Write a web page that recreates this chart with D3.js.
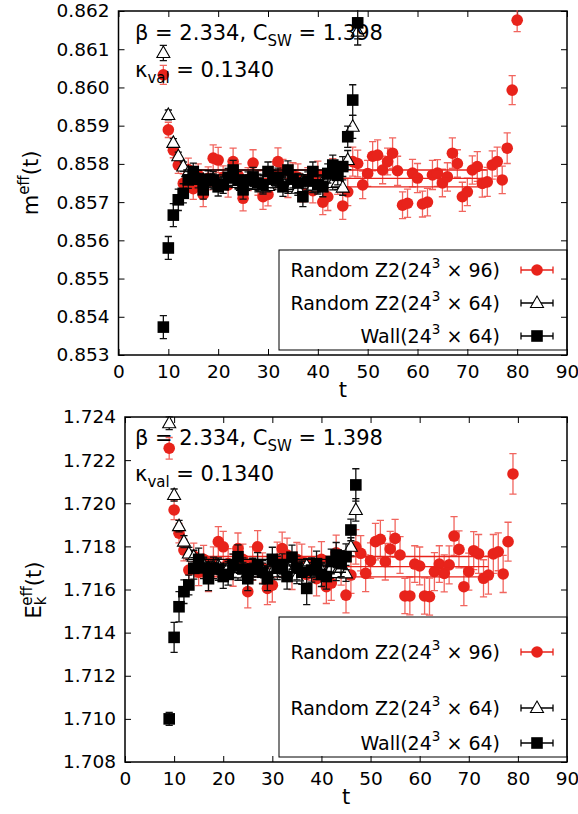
<!DOCTYPE html>
<html><head><meta charset="utf-8">
<script src="https://cdn.jsdelivr.net/npm/d3@7"></script>
<style>
body{margin:0;background:#fff}
svg{display:block}
text{font-family:"DejaVu Sans",Verdana,sans-serif;fill:#000}
</style>
</head><body>
<svg id="c" width="578" height="814"></svg>
<script>
// ---------------- data ----------------
const xTicks = [0,10,20,30,40,50,60,70,80,90];
const yTicksM = [0.853,0.854,0.855,0.856,0.857,0.858,0.859,0.860,0.861,0.862];
const yTicksE = [1.708,1.710,1.712,1.714,1.716,1.718,1.720,1.722,1.724];

const legendLabels = ["Random Z2(24", "Random Z2(24", "Wall(24"];
const legendTails = ["96)", "64)", "64)"];

// top panel: m_eff(t)
const tR96M = [9,10,11,12,13,14,15,16,17,18,19,20,21,22,23,24,25,26,27,28,29,30,31,32,33,34,35,36,37,38,39,40,41,42,43,44,45,46,47,48,49,50,51,52,53,54,55,56,57,58,59,60,61,62,63,64,65,66,67,68,69,70,71,72,73,74,75,76,77,78,79,80];
const mR96 = [0.86033,0.85889,0.85836,0.85797,0.85749,0.85785,0.85735,0.85770,0.85720,0.85762,
  0.85815,0.85810,0.85765,0.85745,0.85806,0.85770,0.85710,0.85760,0.85802,0.85750,
  0.85714,0.85720,0.85772,0.85806,0.85780,0.85742,0.85770,0.85765,0.85735,0.85760,
  0.85730,0.85772,0.85700,0.85714,0.85780,0.85752,0.85690,0.85727,0.85806,0.85801,
  0.85745,0.85775,0.85820,0.85823,0.85784,0.85806,0.85828,0.85782,0.85692,0.85697,
  0.85776,0.85763,0.85695,0.85700,0.85771,0.85776,0.85750,0.85766,0.85828,0.85801,
  0.85714,0.85727,0.85784,0.85793,0.85749,0.85753,0.85797,0.85806,0.85758,0.85841,
  0.85993,0.86176];
const mR96Err = [0.00025,0.0002,0.0002,0.00022,0.00025,0.0003,0.00028,0.0003,0.00032,0.0003,
  0.00035,0.00033,0.0003,0.00032,0.00035,0.0003,0.00033,0.0003,0.00035,0.00032,
  0.00033,0.0003,0.00034,0.00036,0.00032,0.0003,0.00033,0.00035,0.00034,0.0003,
  0.00032,0.00035,0.00033,0.00036,0.00034,0.00032,0.00035,0.00036,0.00038,0.00035,
  0.00036,0.00034,0.00038,0.0004,0.00036,0.00035,0.0004,0.00038,0.00035,0.00037,
  0.00036,0.00038,0.00034,0.00036,0.00038,0.00035,0.00036,0.00037,0.0004,0.00036,
  0.00038,0.00036,0.00037,0.00039,0.00036,0.00038,0.00037,0.00038,0.00036,0.0004,
  0.00038,0.0003];

const tR64M = [9,10,11,12,13,14,15,16,17,18,19,20,21,22,23,24,25,26,27,28,29,30,31,32,33,34,35,36,37,38,39,40,41,42,43,44,45,46,47,48];
const mR64 = [0.86090,0.85928,0.85855,0.85820,0.85793,0.85778,0.85770,0.85762,0.85758,0.85755,
  0.85760,0.85748,0.85752,0.85755,0.85760,0.85750,0.85742,0.85748,0.85756,0.85745,
  0.85740,0.85742,0.85750,0.85755,0.85752,0.85740,0.85745,0.85735,0.85756,0.85748,
  0.85742,0.85740,0.85752,0.85758,0.85750,0.85752,0.85738,0.85810,0.85897,0.86146];
const mR64Err = [0.0002,0.00013,0.00011,0.00011,0.00012,0.00013,0.00014,0.00013,0.00014,0.00015,
  0.00014,0.00015,0.00014,0.00016,0.00015,0.00014,0.00016,0.00015,0.00016,0.00015,
  0.00016,0.00015,0.00017,0.00016,0.00015,0.00017,0.00016,0.00017,0.00016,0.00018,
  0.00017,0.00016,0.00018,0.00017,0.00018,0.00019,0.0002,0.00025,0.0003,0.00035];

const tWallM = [9,10,11,12,13,14,15,16,17,18,19,20,21,22,23,24,25,26,27,28,29,30,31,32,33,34,35,36,37,38,39,40,41,42,43,44,45,46,47,48];
const mWall = [0.85373,0.85580,0.85666,0.85706,0.85723,0.85758,0.85780,0.85760,0.85732,0.85760,
  0.85757,0.85740,0.85745,0.85765,0.85784,0.85757,0.85732,0.85757,0.85766,0.85750,
  0.85745,0.85780,0.85760,0.85765,0.85740,0.85784,0.85760,0.85750,0.85714,0.85755,
  0.85780,0.85745,0.85740,0.85775,0.85797,0.85770,0.85793,0.85871,0.85967,0.86169];
const mWallErr = [0.0003,0.0003,0.0003,0.00028,0.00025,0.00022,0.00022,0.00023,0.00024,0.00022,
  0.00023,0.00024,0.00022,0.00023,0.00025,0.00023,0.00024,0.00022,0.00025,0.00023,
  0.00024,0.00025,0.00023,0.00024,0.00025,0.00024,0.00023,0.00025,0.00026,0.00024,
  0.00025,0.00024,0.00026,0.00025,0.00026,0.00025,0.00026,0.00028,0.0004,0.00042];

// bottom panel: E_k_eff(t)
const tR96E = [9,10,11,12,13,14,15,16,17,18,19,20,21,22,23,24,25,26,27,28,29,30,31,32,33,34,35,36,37,38,39,40,41,42,43,44,45,46,47,48,49,50,51,52,53,54,55,56,57,58,59,60,61,62,63,64,65,66,67,68,69,70,71,72,73,74,75,76,77,78,79];
const eR96 = [1.72255,1.71969,1.71861,1.71783,1.71690,1.71755,1.71680,1.71740,1.71660,1.71730,
  1.71822,1.71798,1.71720,1.71690,1.71790,1.71740,1.71590,1.71720,1.71798,1.71700,
  1.71605,1.71620,1.71740,1.71790,1.71760,1.71680,1.71740,1.71730,1.71670,1.71720,
  1.71650,1.71740,1.71613,1.71630,1.71770,1.71700,1.71574,1.71667,1.71798,1.71768,
  1.71675,1.71734,1.71822,1.71833,1.71729,1.71788,1.71837,1.71760,1.71570,1.71570,
  1.71718,1.71709,1.71570,1.71567,1.71683,1.71718,1.71675,1.71714,1.71848,1.71786,
  1.71613,1.71683,1.71780,1.71765,1.71652,1.71667,1.71765,1.71775,1.71672,1.71822,
  1.72136];
const eR96Err = [0.0005,0.00045,0.00045,0.0005,0.00055,0.0006,0.00062,0.00065,0.0007,0.00068,
  0.0007,0.00072,0.0007,0.00075,0.00072,0.0007,0.00075,0.00078,0.00075,0.0007,
  0.00075,0.00078,0.0008,0.00076,0.00078,0.0008,0.00078,0.0008,0.00082,0.00078,
  0.0008,0.00082,0.00078,0.0008,0.00082,0.0008,0.00082,0.00085,0.0008,0.00082,
  0.00085,0.00082,0.00085,0.00088,0.00085,0.00082,0.00088,0.00085,0.00082,0.00088,
  0.00085,0.00088,0.00084,0.00086,0.00088,0.00085,0.00086,0.00088,0.0009,0.00086,
  0.00088,0.00086,0.00088,0.0009,0.00086,0.00088,0.0009,0.00088,0.00086,0.0009,
  0.00094];

const tR64E = [9,10,11,12,13,14,15,16,17,18,19,20,21,22,23,24,25,26,27,28,29,30,31,32,33,34,35,36,37,38,39,40,41,42,43,44,45,46,47];
const eR64 = [1.72371,1.72038,1.71894,1.71822,1.71767,1.71752,1.71725,1.71715,1.71700,1.71705,
  1.71710,1.71690,1.71700,1.71705,1.71675,1.71695,1.71680,1.71690,1.71705,1.71690,
  1.71675,1.71680,1.71695,1.71705,1.71700,1.71680,1.71660,1.71695,1.71710,1.71690,
  1.71680,1.71690,1.71675,1.71700,1.71676,1.71700,1.71675,1.71798,1.71969];
const eR64Err = [0.0003,0.00028,0.00027,0.00028,0.00028,0.0003,0.0003,0.00031,0.0003,0.00032,
  0.00031,0.00032,0.0003,0.00033,0.00032,0.00031,0.00033,0.00032,0.00033,0.00032,
  0.00033,0.00032,0.00034,0.00033,0.00032,0.00034,0.00033,0.00034,0.00033,0.00035,
  0.00034,0.00033,0.00035,0.00034,0.00035,0.00036,0.00037,0.00042,0.00052];

const tWallE = [9,10,11,12,13,14,15,16,17,18,19,20,21,22,23,24,25,26,27,28,29,30,31,32,33,34,35,36,37,38,39,40,41,42,43,44,45,46,47];
const eWall = [1.71000,1.71378,1.71520,1.71590,1.71621,1.71698,1.71740,1.71700,1.71650,1.71700,
  1.71695,1.71660,1.71670,1.71710,1.71752,1.71695,1.71650,1.71695,1.71715,1.71680,
  1.71650,1.71740,1.71700,1.71710,1.71660,1.71750,1.71700,1.71680,1.71605,1.71690,
  1.71720,1.71670,1.71660,1.71730,1.71760,1.71720,1.71752,1.71876,1.72085];
const eWallErr = [0.0003,0.0007,0.0007,0.00055,0.00046,0.0005,0.00052,0.0005,0.00055,0.0005,
  0.00052,0.00055,0.0005,0.00054,0.00055,0.00052,0.00055,0.0005,0.00056,0.00054,
  0.00055,0.00056,0.00054,0.00055,0.00058,0.00056,0.00055,0.00056,0.00075,0.00056,
  0.00058,0.00056,0.00058,0.00057,0.00058,0.0006,0.0006,0.0005,0.00075];

// fits: [tStart, tEnd, value, error]
const fitRedM = [14, 74, 0.85762, 0.00022];
const fitWallM = [13, 45, 0.85771, 0.00013];
const fitRedE = [14, 74, 1.71706, 0.00047];
const fitWallE = [13, 45, 1.71710, 0.00030];

// ---------------- drawing ----------------
const RED = "#e8231b";
const RED_ERR = "#ee4a42";
const svg = d3.select("#c");
const CR = 5.8, SQ = 11.6;

function addClip(id, cfg){
  svg.append("clipPath").attr("id", id).append("rect")
    .attr("x", cfg.L).attr("y", cfg.T - 1).attr("width", cfg.R - cfg.L).attr("height", cfg.B - cfg.T + 1);
}

function errPath(x, y, t, v, e, cap){
  const cx = x(t), y1 = y(v - e), y2 = y(v + e);
  return `M${cx},${y1}V${y2}M${cx-cap},${y1}H${cx+cap}M${cx-cap},${y2}H${cx+cap}`;
}

function triPath(cx, cy){
  return `M${cx},${cy-7}L${cx+6.5},${cy+4.5}L${cx-6.5},${cy+4.5}Z`;
}

function drawSeries(g, x, y, ts, vs, es, kind){
  const data = ts.map((t,i)=>({t, v: vs[i], e: es[i]}));
  const col = kind === "red" ? RED_ERR : "#111";
  g.append("g").selectAll("path").data(data).join("path")
    .attr("d", d => errPath(x, y, d.t, d.v, d.e, 3.6))
    .attr("fill", "none").attr("stroke", col).attr("stroke-width", 1.3)
    .attr("stroke-opacity", kind === "red" ? 0.85 : 1);
  const mg = g.append("g");
  if (kind === "red") {
    mg.selectAll("circle").data(data).join("circle")
      .attr("cx", d => x(d.t)).attr("cy", d => y(d.v)).attr("r", CR).attr("fill", RED);
  } else if (kind === "tri") {
    mg.selectAll("path").data(data).join("path")
      .attr("d", d => triPath(x(d.t), y(d.v)))
      .attr("fill", "#fff").attr("stroke", "#000").attr("stroke-width", 1.1);
  } else {
    mg.selectAll("rect").data(data).join("rect")
      .attr("x", d => x(d.t) - SQ/2).attr("y", d => y(d.v) - SQ/2)
      .attr("width", SQ).attr("height", SQ).attr("fill", "#000");
  }
}

function drawFit(g, x, y, fit, color){
  const [t0, t1, v, e] = fit;
  g.append("g").selectAll("line").data([v - e, v, v + e]).join("line")
    .attr("x1", x(t0)).attr("x2", x(t1))
    .attr("y1", d => y(d)).attr("y2", d => y(d))
    .attr("stroke", color).attr("stroke-width", 1.3);
}

function drawLegend(x0, y0, w, h, rows){
  const g = svg.append("g");
  g.append("rect").attr("x", x0).attr("y", y0).attr("width", w).attr("height", h)
    .attr("fill", "none").attr("stroke", "#000").attr("stroke-width", 1);
  const kinds = ["red", "tri", "sq"];
  rows.forEach((ry, i) => {
    const txt = g.append("text").attr("x", 500).attr("y", ry + 7)
      .attr("text-anchor", "end").attr("font-size", 19);
    txt.append("tspan").text(legendLabels[i]);
    txt.append("tspan").attr("font-size", 13.5).attr("dy", -9).text("3");
    txt.append("tspan").attr("dy", 9).text(" \u00d7 " + legendTails[i]);
    const col = kinds[i] === "red" ? RED : "#000";
    const x1 = 521, x2 = 553, cx = 537;
    g.append("path").attr("d", `M${x1},${ry}H${x2}M${x1},${ry-3.6}V${ry+3.6}M${x2},${ry-3.6}V${ry+3.6}`)
      .attr("stroke", col).attr("stroke-width", 1.3).attr("fill", "none");
    if (kinds[i] === "red") g.append("circle").attr("cx", cx).attr("cy", ry).attr("r", CR).attr("fill", RED);
    else if (kinds[i] === "tri") g.append("path").attr("d", triPath(cx, ry)).attr("fill", "#fff").attr("stroke", "#000").attr("stroke-width", 1.1);
    else g.append("rect").attr("x", cx - SQ/2).attr("y", ry - SQ/2).attr("width", SQ).attr("height", SQ).attr("fill", "#000");
  });
}

function panel(cfg){
  const x = d3.scaleLinear().domain([0, 90]).range([cfg.L, cfg.R]);
  const y = d3.scaleLinear().domain([cfg.yTicks[0], cfg.yTicks[cfg.yTicks.length - 1]]).range([cfg.B, cfg.T]);
  const ax = svg.append("g");
  ax.append("g").attr("transform", `translate(0,${cfg.B})`)
    .call(d3.axisBottom(x).tickValues(xTicks).tickSize(-6).tickPadding(10).tickFormat(d3.format("d")));
  ax.append("g").attr("transform", `translate(0,${cfg.T})`)
    .call(d3.axisTop(x).tickValues(xTicks).tickSize(-6).tickFormat(""));
  ax.append("g").attr("transform", `translate(${cfg.L},0)`)
    .call(d3.axisLeft(y).tickValues(cfg.yTicks).tickSize(-6).tickPadding(9).tickFormat(d3.format(".3f")));
  ax.append("g").attr("transform", `translate(${cfg.R},0)`)
    .call(d3.axisRight(y).tickValues(cfg.yTicks).tickSize(-6).tickFormat(""));
  ax.selectAll(".domain").remove();
  ax.selectAll(".tick line").attr("stroke", "#000").attr("stroke-width", 1);
  ax.selectAll(".tick text").attr("font-size", 18.5).attr("font-family", "DejaVu Sans").attr("fill", "#000");
  ax.append("rect").attr("x", cfg.L).attr("y", cfg.T).attr("width", cfg.R - cfg.L).attr("height", cfg.B - cfg.T)
    .attr("fill", "none").attr("stroke", "#000").attr("stroke-width", 1.5);

  svg.append("text").attr("x", (cfg.L + cfg.R) / 2).attr("y", cfg.B + 42).attr("text-anchor", "middle")
    .attr("font-size", 21).text("t");

  addClip(cfg.id, cfg);
  const g = svg.append("g").attr("clip-path", `url(#${cfg.id})`);
  drawSeries(g, x, y, cfg.tR96, cfg.vR96, cfg.eR96, "red");
  drawFit(g, x, y, cfg.fitRed, RED);
  drawSeries(g, x, y, cfg.tR64, cfg.vR64, cfg.eR64, "tri");
  drawSeries(g, x, y, cfg.tWall, cfg.vWall, cfg.eWall, "sq");
  drawFit(g, x, y, cfg.fitWall, "#000");

  const a1 = svg.append("text").attr("x", 135).attr("y", cfg.T + cfg.ann1).attr("font-size", 21);
  a1.append("tspan").text("\u03b2 = 2.334, C");
  a1.append("tspan").attr("font-size", 15).attr("dy", 6).text("SW");
  a1.append("tspan").attr("dy", -6).text(" = 1.398");
  const a2 = svg.append("text").attr("x", 135).attr("y", cfg.T + cfg.ann2).attr("font-size", 21);
  a2.append("tspan").text("\u03ba");
  a2.append("tspan").attr("font-size", 15).attr("dy", 6).text("val");
  a2.append("tspan").attr("dy", -6).text(" = 0.1340");
}

panel({id: "clipTop", L: 118.5, R: 567, T: 11, B: 355, yTicks: yTicksM,
  tR96: tR96M, vR96: mR96, eR96: mR96Err,
  tR64: tR64M, vR64: mR64, eR64: mR64Err,
  tWall: tWallM, vWall: mWall, eWall: mWallErr,
  fitRed: fitRedM, fitWall: fitWallM, ann1: 29, ann2: 66});
drawLegend(279, 250, 288, 100, [270, 303, 336]);

panel({id: "clipBot", L: 125, R: 567, T: 417, B: 762, yTicks: yTicksE,
  tR96: tR96E, vR96: eR96, eR96: eR96Err,
  tR64: tR64E, vR64: eR64, eR64: eR64Err,
  tWall: tWallE, vWall: eWall, eWall: eWallErr,
  fitRed: fitRedE, fitWall: fitWallE, ann1: 28, ann2: 64});
drawLegend(279, 617, 288, 140, [652, 708, 743]);

const yl1 = svg.append("text").attr("transform", "translate(38,183) rotate(-90)")
  .attr("text-anchor", "middle").attr("font-size", 21);
yl1.append("tspan").text("m");
yl1.append("tspan").attr("font-size", 15).attr("dy", -9).text("eff");
yl1.append("tspan").attr("dy", 9).text("(t)");

const yl2 = svg.append("text").attr("transform", "translate(41,590) rotate(-90)")
  .attr("text-anchor", "middle").attr("font-size", 21);
yl2.append("tspan").text("E");
yl2.append("tspan").attr("font-size", 15).attr("dy", 5).text("k");
yl2.append("tspan").attr("font-size", 15).attr("dy", -14).attr("dx", -8.7).text("eff");
yl2.append("tspan").attr("dy", 9).text("(t)");
</script>
</body></html>
